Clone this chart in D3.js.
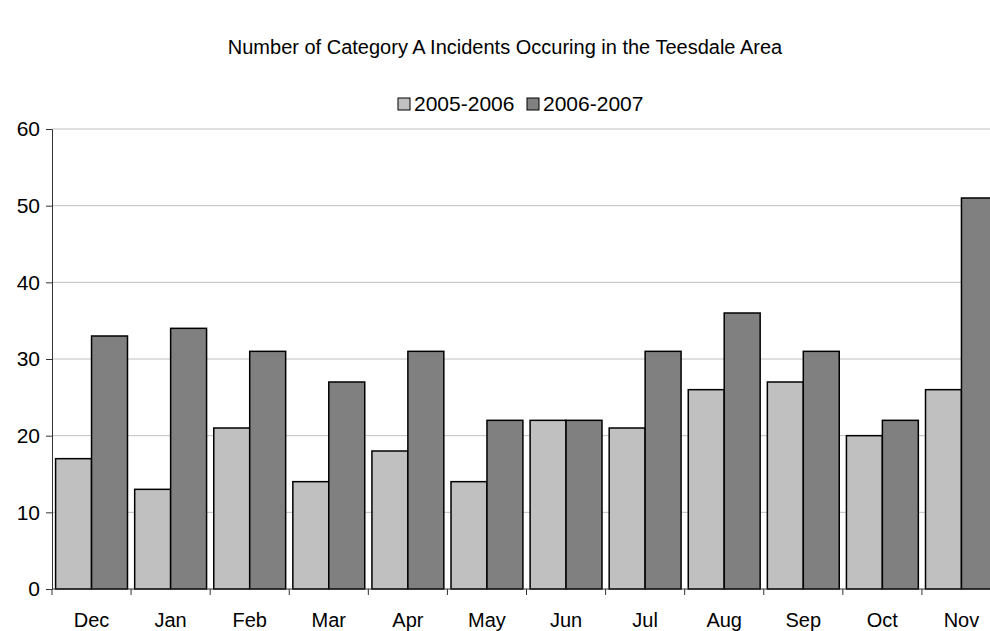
<!DOCTYPE html>
<html><head><meta charset="utf-8">
<script src="https://cdn.jsdelivr.net/npm/d3@7"></script>
<style>body{margin:0;background:#fff;font-family:"Liberation Sans",Arial,sans-serif;}</style>
</head><body>
<svg id="c" width="990" height="631"></svg>
<script>
const months = ["Dec","Jan","Feb","Mar","Apr","May","Jun","Jul","Aug","Sep","Oct","Nov"];
const seriesNames = ["2005-2006","2006-2007"];
const values2005 = [17,13,21,14,18,14,22,21,26,27,20,26];
const values2006 = [33,34,31,27,31,22,22,31,36,31,22,51];
const yTicks = [0,10,20,30,40,50,60];
const colors = ["#c0c0c0","#808080"];

(function(){
const svg = d3.select("#c");
const mL = 52, mR = 1001, mT = 129, mB = 589;
const x = d3.scaleBand().domain(months).range([mL, mR]).paddingInner(0.2/2.2).paddingOuter(0.1/2.2);
const xOuter = d3.scaleBand().domain(months).range([mL, mR]);
const x1 = d3.scaleBand().domain(seriesNames).range([0, x.bandwidth()]);
const y = d3.scaleLinear().domain([0,60]).range([mB, mT]);

// gridlines
svg.append("g").selectAll("line").data(yTicks.slice(1)).join("line")
  .attr("x1", mL).attr("x2", 990).attr("y1", d=>y(d)).attr("y2", d=>y(d))
  .attr("stroke", "#c0c0c0").attr("stroke-width", 1);

// bars
const data = months.map((m,i)=>({m, v:[values2005[i], values2006[i]]}));
const g = svg.append("g");
data.forEach(d=>{
  seriesNames.forEach((s,j)=>{
    g.append("rect")
      .attr("x", x(d.m)+x1(s)).attr("y", y(d.v[j]))
      .attr("width", x1.bandwidth()).attr("height", y(0)-y(d.v[j]))
      .attr("fill", colors[j]).attr("stroke", "#000").attr("stroke-width", 1.5);
  });
});

// y axis
const ya = svg.append("g").attr("transform", `translate(${mL},0)`)
  .call(d3.axisLeft(y).tickValues(yTicks).tickSize(6).tickPadding(6));
ya.select(".domain").attr("stroke", "#333");
ya.selectAll(".tick line").attr("stroke", "#333");
ya.selectAll("text").attr("font-size", 21).attr("fill", "#000").attr("font-family", "Liberation Sans, Arial, sans-serif");

// x axis
const xa = svg.append("g").attr("transform", `translate(0,${mB})`);
xa.append("line").attr("x1", mL).attr("x2", 990).attr("y1", 0).attr("y2", 0).attr("stroke", "#333");
xa.selectAll("line.t").data(months).join("line").attr("class","t")
  .attr("x1", d=>xOuter(d)).attr("x2", d=>xOuter(d)).attr("y1", 0).attr("y2", 6).attr("stroke", "#333");
xa.selectAll("text").data(months).join("text")
  .attr("x", d=>xOuter(d)+xOuter.bandwidth()/2).attr("y", 38)
  .attr("text-anchor", "middle").attr("font-size", 20).text(d=>d);

// title
svg.append("text").attr("x", 505).attr("y", 54).attr("text-anchor", "middle")
  .attr("font-size", 20).text("Number of Category A Incidents Occuring in the Teesdale Area");

// legend
const lg = svg.append("g");
const lx = [398, 527];
seriesNames.forEach((s,j)=>{
  lg.append("rect").attr("x", lx[j]).attr("y", 98).attr("width", 12).attr("height", 12)
    .attr("fill", colors[j]).attr("stroke", "#000").attr("stroke-width", 1);
  lg.append("text").attr("x", lx[j]+16).attr("y", 111).attr("font-size", 21).text(s);
});
})();
</script>
</body></html>
